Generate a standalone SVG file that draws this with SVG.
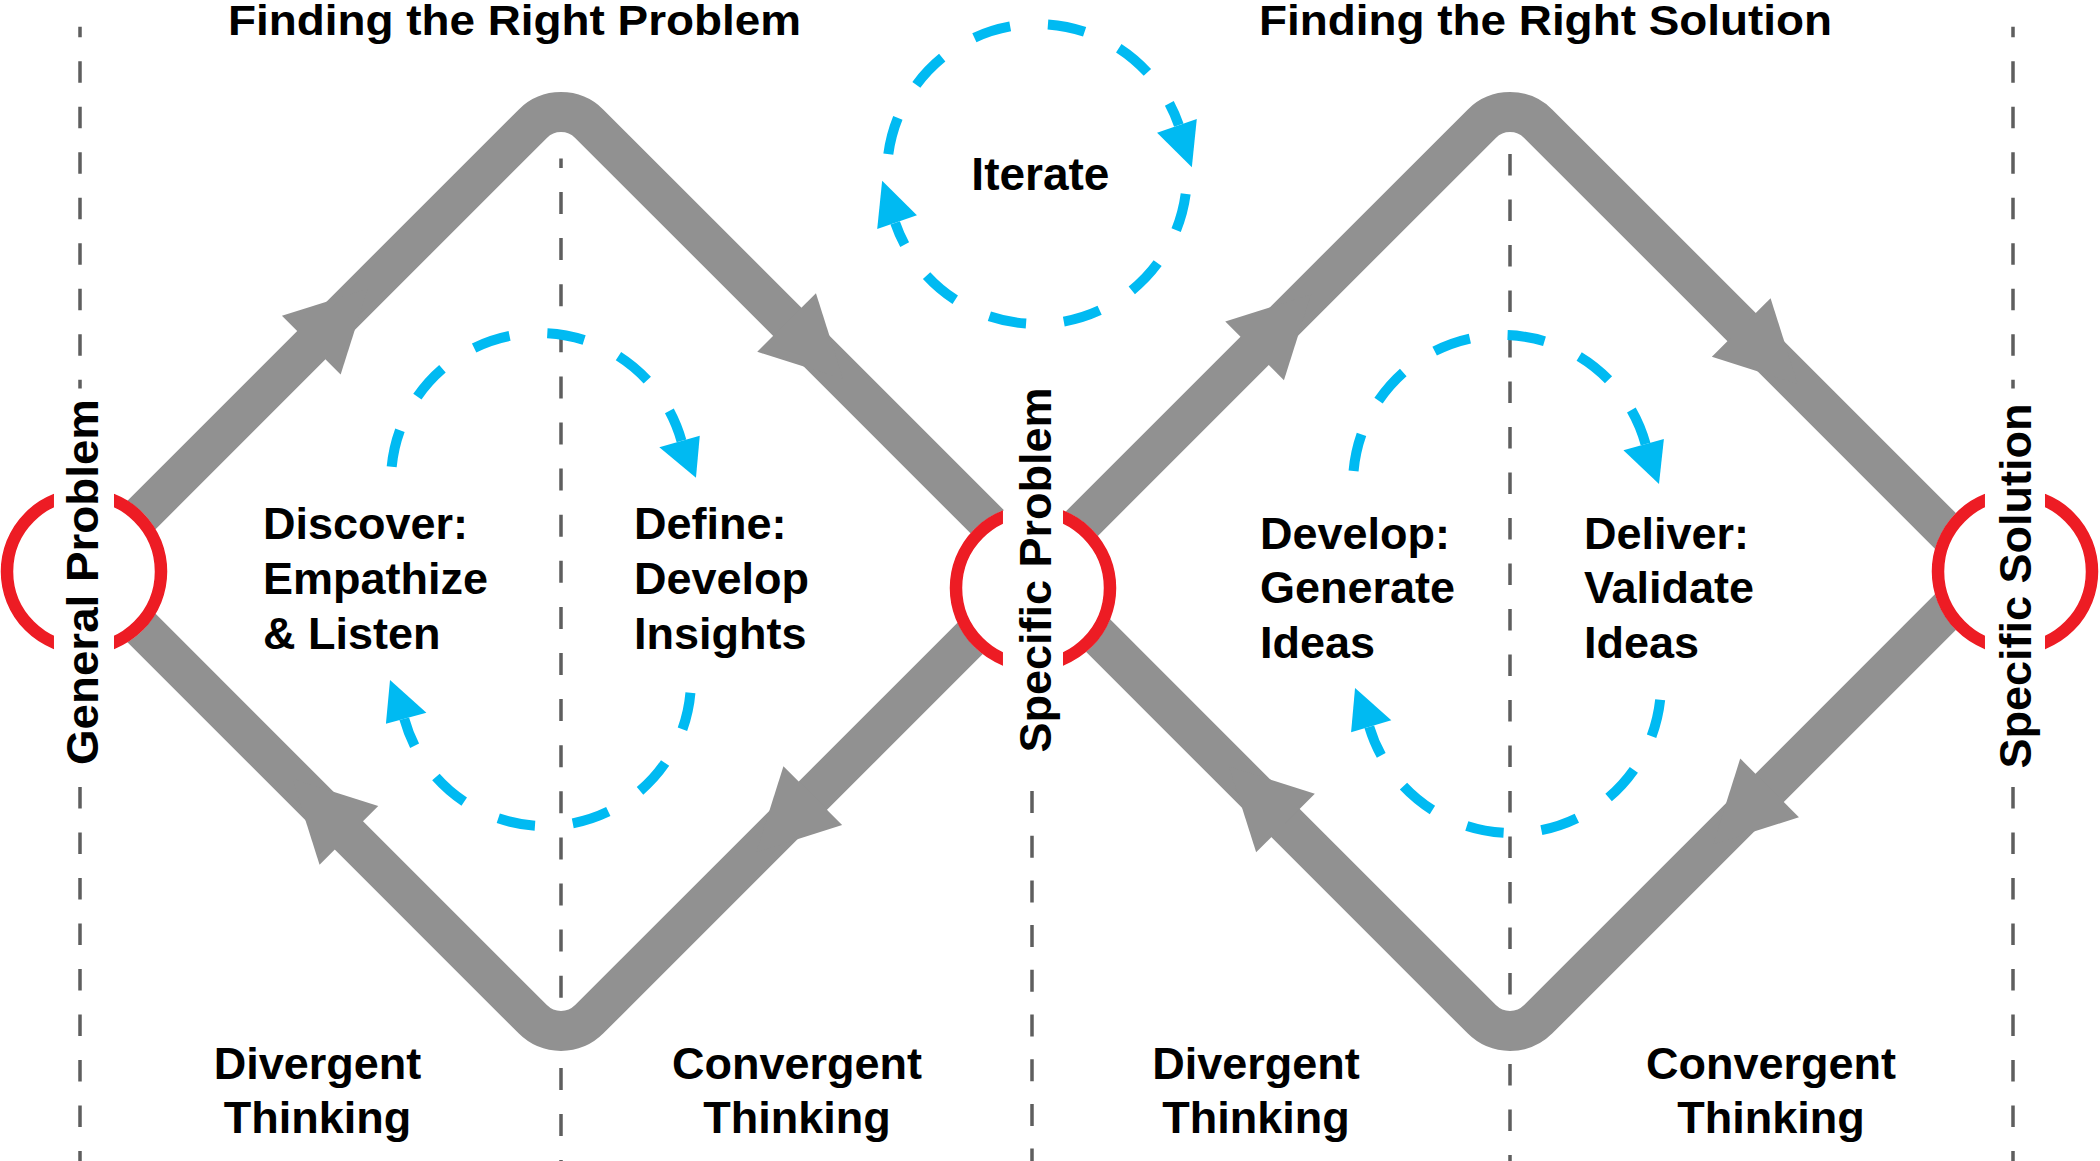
<svg xmlns="http://www.w3.org/2000/svg" width="2100" height="1161" viewBox="0 0 2100 1161">
<defs>
<style>
.t{font-family:"Liberation Sans",Arial,Helvetica,sans-serif;font-weight:bold;font-size:45px;fill:#000}
.title{font-size:43px}
.mid{text-anchor:middle}
.vl{fill:none;stroke:#5e5e5e;stroke-width:3.5;stroke-dasharray:21.5 24}
.band{fill:none;stroke:#919191;stroke-width:40;stroke-linejoin:miter}
.ring{fill:none;stroke:#ED1C24;stroke-width:12.5}
.hole{fill:#fff;stroke:none}
.loop{fill:none;stroke:#00BAF2;stroke-width:10;stroke-dasharray:37.5 38}
.bh{fill:#00BAF2}
</style>
<polygon id="garrow" points="0,-41.5 80,0 0,41.5" fill="#919191"/>
<clipPath id="gapclip" clipPathUnits="objectBoundingBox">
<rect x="-0.3" y="-0.3" width="0.605" height="1.6"/>
<rect x="0.695" y="-0.3" width="0.605" height="1.6"/>
</clipPath>
</defs>
<rect x="0" y="0" width="2100" height="1161" fill="#fff"/>

<g id="guides">
<line class="vl" x1="80" y1="26.8" x2="80" y2="388.4" stroke-dashoffset="11"/>
<line class="vl" x1="80" y1="787" x2="80" y2="1161"/>
<line class="vl" x1="561" y1="158.5" x2="561" y2="1161" style="stroke-dasharray:22 24.1;stroke-dashoffset:12.6"/>
<line class="vl" x1="1032" y1="791" x2="1032" y2="1161" style="stroke-dasharray:22 22.7"/>
<line class="vl" x1="1510" y1="154" x2="1510" y2="1161"/>
<line class="vl" x1="2013" y1="26.8" x2="2013" y2="388.4" stroke-dashoffset="11"/>
<line class="vl" x1="2013" y1="787" x2="2013" y2="1161"/>
</g>

<g id="connectors">
<path class="band" d="M85,571.5 L532.72,123.78 A40,40 0 0 1 589.28,123.78 L1037,571.5 L589.28,1019.22 A40,40 0 0 1 532.72,1019.22 Z"/>
<path class="band" d="M1034,571.5 L1481.72,123.78 A40,40 0 0 1 1538.28,123.78 L1986,571.5 L1538.28,1019.22 A40,40 0 0 1 1481.72,1019.22 Z"/>
<use href="#garrow" transform="translate(311.3,345.2) rotate(-45)"/>
<use href="#garrow" transform="translate(786.6,322.5) rotate(45)"/>
<use href="#garrow" transform="translate(812.8,795.7) rotate(135)"/>
<use href="#garrow" transform="translate(348.9,835.4) rotate(225)"/>
<use href="#garrow" transform="translate(1254.6,350.9) rotate(-45)"/>
<use href="#garrow" transform="translate(1741.2,327.5) rotate(45)"/>
<use href="#garrow" transform="translate(1769.6,787.9) rotate(135)"/>
<use href="#garrow" transform="translate(1285.5,823) rotate(225)"/>
</g>

<g id="general-problem">
<circle class="hole" cx="84" cy="571.5" r="83"/>
<circle class="ring" cx="84" cy="571.5" r="77" clip-path="url(#gapclip)"/>
<text class="t mid" transform="translate(98,582) rotate(-90)" textLength="366" lengthAdjust="spacingAndGlyphs">General Problem</text>
</g>

<g id="specific-problem">
<circle class="hole" cx="1033" cy="588" r="83"/>
<circle class="ring" cx="1033" cy="588" r="77" clip-path="url(#gapclip)"/>
<text class="t mid" transform="translate(1051,570) rotate(-90)">Specific Problem</text>
</g>

<g id="specific-solution">
<circle class="hole" cx="2015" cy="571.5" r="83"/>
<circle class="ring" cx="2015" cy="571.5" r="77" clip-path="url(#gapclip)"/>
<text class="t mid" transform="translate(2031,586) rotate(-90)">Specific Solution</text>
</g>

<g id="iterate">
<path class="loop" d="M1185.68,193.84 A150,150 0 0 1 895.17,222.84"/>
<polygon class="bh" points="916.92,215.35 877.21,229.02 882.15,180.76"/>
<path class="loop" d="M888.32,154.16 A150,150 0 0 1 1178.83,125.16"/>
<polygon class="bh" points="1157.08,132.65 1196.79,118.98 1191.85,167.24"/>
<text class="t mid" x="1040.4" y="189.7" style="font-size:46px">Iterate</text>
</g>

<g id="loop-problem">
<path class="loop" d="M391.68,466.81 A148,148 0 0 1 681.48,440.95"/>
<polygon class="bh" points="659.34,447.17 699.77,435.81 695.97,477.7"/>
<path class="loop" d="M690.44,692.73 A146,146 0 0 1 404.24,718.77"/>
<polygon class="bh" points="426.42,712.66 385.92,723.82 390,680"/>
</g>

<g id="loop-solution">
<path class="loop" d="M1353.57,471.01 A149,149 0 0 1 1645.58,444.18"/>
<polygon class="bh" points="1623.42,450.33 1663.89,439.1 1659,484"/>
<path class="loop" d="M1660.16,699.83 A149,149 0 0 1 1369.28,726.82"/>
<polygon class="bh" points="1391.31,720.21 1351.09,732.28 1355.05,688.11"/>
</g>

<g id="title-problem">
<text class="t title" x="228" y="35" textLength="573" lengthAdjust="spacingAndGlyphs">Finding the Right Problem</text>
</g>
<g id="title-solution">
<text class="t title" x="1259" y="35" textLength="573" lengthAdjust="spacingAndGlyphs">Finding the Right Solution</text>
</g>

<g id="discover">
<text class="t" x="263" y="539">Discover:</text>
<text class="t" x="263" y="594">Empathize</text>
<text class="t" x="263" y="649">&amp; Listen</text>
</g>
<g id="define">
<text class="t" x="634" y="539">Define:</text>
<text class="t" x="634" y="594">Develop</text>
<text class="t" x="634" y="649">Insights</text>
</g>
<g id="develop">
<text class="t" x="1260" y="548.5">Develop:</text>
<text class="t" x="1260" y="603">Generate</text>
<text class="t" x="1260" y="657.5">Ideas</text>
</g>
<g id="deliver">
<text class="t" x="1584" y="548.5">Deliver:</text>
<text class="t" x="1584" y="603">Validate</text>
<text class="t" x="1584" y="657.5">Ideas</text>
</g>

<g id="divergent-1">
<text class="t mid" x="317.5" y="1079">Divergent</text>
<text class="t mid" x="317.5" y="1133">Thinking</text>
</g>
<g id="convergent-1">
<text class="t mid" x="797" y="1079">Convergent</text>
<text class="t mid" x="797" y="1133">Thinking</text>
</g>
<g id="divergent-2">
<text class="t mid" x="1256" y="1079">Divergent</text>
<text class="t mid" x="1256" y="1133">Thinking</text>
</g>
<g id="convergent-2">
<text class="t mid" x="1771" y="1079">Convergent</text>
<text class="t mid" x="1771" y="1133">Thinking</text>
</g>
</svg>
